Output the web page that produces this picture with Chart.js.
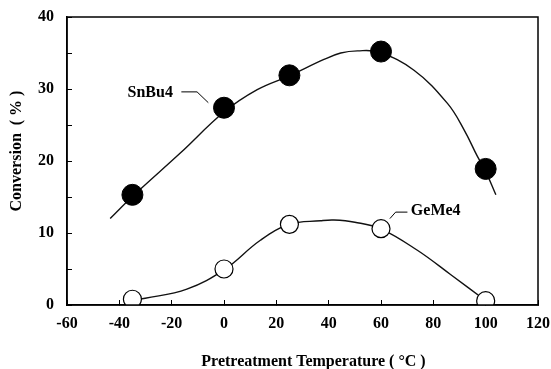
<!DOCTYPE html>
<html>
<head>
<meta charset="utf-8">
<title>Conversion vs pretreatment temperature</title>
<script src="https://cdn.jsdelivr.net/npm/chart.js@4.4.1/dist/chart.umd.min.js"></script>
<style>
  html, body { margin: 0; padding: 0; background: #fff; }
  #wrap { width: 551px; height: 369px; position: relative; }
</style>
</head>
<body>
<div id="wrap"><canvas id="conversionChart"></canvas></div>
<script>
// Measured points (pretreatment temperature in deg C, conversion in %)
const temps = [-35, 0, 25, 60, 100];
const snBu4 = [15.3, 27.4, 31.9, 35.2, 18.9];
const geMe4 = [0.8, 5.0, 11.2, 10.6, 0.6];

// Hand-drawn trend curves through each series
const snCurveX = [-43.5, -34.6, -16.7, 0, 12.7, 24.8, 38.2, 44.6, 51, 59.2, 72.6, 85.4, 91.8, 96.9, 99.7, 103.9];
const snCurveY = [12.0, 15.2, 21.1, 26.8, 29.9, 31.8, 34.1, 35.0, 35.3, 35.1, 32.6, 28.0, 24.3, 20.6, 18.8, 15.3];
const geCurveX = [-34.3, -30.1, -14.2, 0.25, 13.9, 25, 36.9, 42, 50, 60.1, 73.9, 86.7, 100.2];
const geCurveY = [0.75, 0.93, 2.2, 4.95, 9.0, 11.2, 11.7, 11.8, 11.5, 10.55, 7.6, 4.2, 0.55];

// Tick labels shown on the axes
const xTickLabels = [-60, -40, -20, 0, 20, 40, 60, 80, 100, 120];
const yTickLabels = [0, 10, 20, 30, 40];

const SERIF = '"Liberation Serif", "Times New Roman", serif';

function toPoints(xs, ys) {
  return xs.map((x, i) => ({ x: x, y: ys[i] }));
}

// Box frame, series labels with leader lines, and axis titles
const decorations = {
  id: 'decorations',
  afterDraw(chart) {
    const ctx = chart.ctx;
    const area = chart.chartArea;
    const xs = chart.scales.x;
    const ys = chart.scales.y;
    const px = v => xs.getPixelForValue(v);
    const py = v => ys.getPixelForValue(v);

    ctx.save();
    ctx.strokeStyle = '#000';
    ctx.lineWidth = 1.5;
    ctx.strokeRect(area.left, area.top, area.right - area.left, area.bottom - area.top);

    // leader lines
    ctx.lineWidth = 1;
    ctx.beginPath();
    ctx.moveTo(px(-16.3), py(29.6));
    ctx.lineTo(px(-10.3), py(29.6));
    ctx.lineTo(px(-6.0), py(28.1));
    ctx.moveTo(px(63.4), py(12.0));
    ctx.lineTo(px(65.6), py(12.9));
    ctx.lineTo(px(70.1), py(12.9));
    ctx.stroke();

    ctx.fillStyle = '#000';
    ctx.textBaseline = 'middle';
    ctx.textAlign = 'center';
    ctx.font = 'bold 16px ' + SERIF;
    ctx.fillText('SnBu4', px(-28.2), py(29.4));
    ctx.textAlign = 'left';
    ctx.fillText('GeMe4', px(71.4), py(13.05));

    // axis titles
    ctx.font = 'bold 16px ' + SERIF;
    ctx.textAlign = 'center';
    ctx.fillText('Pretreatment Temperature ( \u00b0C )', (area.left + area.right) / 2 + 11, area.bottom + 57);
    ctx.translate(17, (area.top + area.bottom) / 2 - 10);
    ctx.rotate(-Math.PI / 2);
    ctx.fillText('Conversion  ( % )', 0, 0);
    ctx.restore();
  }
};

const data = {
  datasets: [
    {
      label: 'SnBu4',
      data: toPoints(temps, snBu4),
      showLine: false,
      pointRadius: 10.5,
      pointBackgroundColor: '#000',
      pointBorderColor: '#000',
      order: 0
    },
    {
      label: 'GeMe4',
      data: toPoints(temps, geMe4),
      showLine: false,
      pointRadius: 9,
      pointBackgroundColor: '#fff',
      pointBorderColor: '#000',
      pointBorderWidth: 1.2,
      order: 0
    },
    {
      label: 'SnBu4 trend',
      data: toPoints(snCurveX, snCurveY),
      showLine: true,
      borderColor: '#111',
      borderWidth: 1.4,
      pointRadius: 0,
      tension: 0.4,
      order: 1
    },
    {
      label: 'GeMe4 trend',
      data: toPoints(geCurveX, geCurveY),
      showLine: true,
      borderColor: '#111',
      borderWidth: 1.4,
      pointRadius: 0,
      tension: 0.4,
      order: 1
    }
  ]
};

const tickFont = { family: SERIF, size: 16, weight: 'bold' };

const config = {
  type: 'scatter',
  data: data,
  options: {
    responsive: true,
    maintainAspectRatio: false,
    animation: false,
    layout: { padding: { left: 0, right: 13, top: 17, bottom: 0 } },
    plugins: {
      legend: { display: false },
      tooltip: { enabled: false }
    },
    scales: {
      x: {
        type: 'linear',
        min: -60,
        max: 120,
        // fixed axis band; label overhang is covered by the layout padding
        afterFit(scale) {
          scale.height = 64;
          scale.paddingLeft = 0;
          scale.paddingRight = 0;
        },
        ticks: {
          stepSize: 10,
          padding: 14,
          color: '#000',
          font: tickFont,
          maxRotation: 0,
          callback: v => xTickLabels.includes(Math.round(v)) ? Math.round(v) : ''
        },
        grid: { drawOnChartArea: false, tickLength: -5, color: '#000', lineWidth: 1 },
        border: { color: '#000', width: 1.5 }
      },
      y: {
        type: 'linear',
        min: 0,
        max: 40,
        afterFit(scale) {
          scale.width = 67;
          scale.paddingTop = 0;
          scale.paddingBottom = 0;
        },
        ticks: {
          stepSize: 5,
          padding: 18,
          color: '#000',
          font: tickFont,
          callback: v => yTickLabels.includes(Math.round(v)) ? Math.round(v) : ''
        },
        grid: { drawOnChartArea: false, tickLength: -5, color: '#000', lineWidth: 1 },
        border: { color: '#000', width: 1.5 }
      }
    }
  },
  plugins: [decorations]
};

new Chart(document.getElementById('conversionChart'), config);
</script>
</body>
</html>
